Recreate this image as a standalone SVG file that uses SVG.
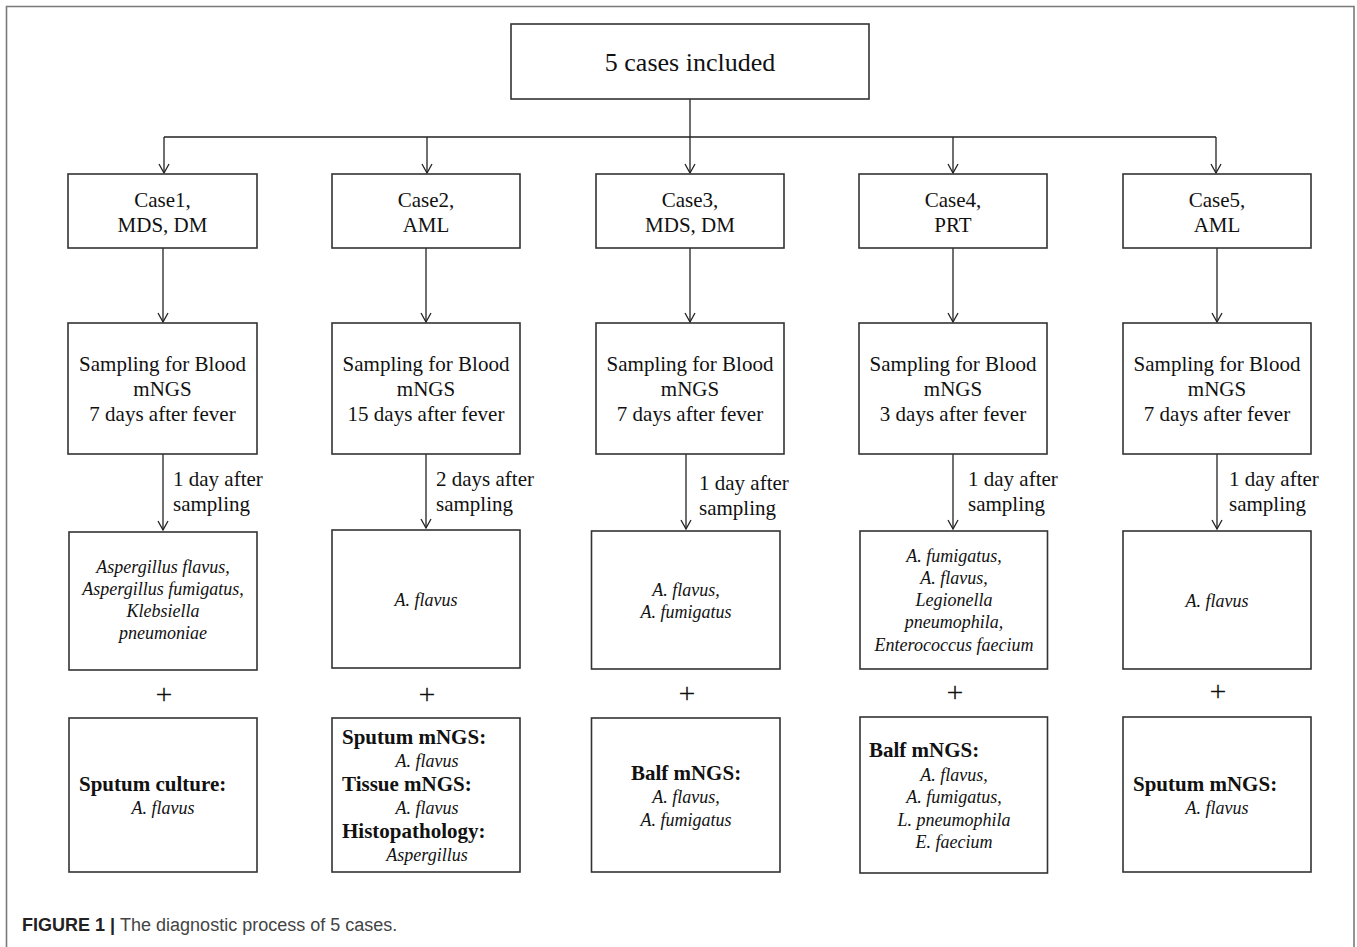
<svg xmlns="http://www.w3.org/2000/svg" width="1357" height="947" viewBox="0 0 1357 947">
<defs>
<marker id="arr" viewBox="0 0 12 12" refX="11" refY="6" markerWidth="12" markerHeight="12" markerUnits="userSpaceOnUse" orient="auto">
<path d="M2,1 L11,6 L2,11" fill="none" stroke="#222" stroke-width="1.3"/>
</marker>
<style>
.box{fill:#fff;stroke:#333;stroke-width:1.6}
.t{font-family:"Liberation Serif","Times New Roman",serif;font-size:21px;fill:#111;text-anchor:middle}
.big{font-family:"Liberation Serif","Times New Roman",serif;font-size:26px;fill:#111;text-anchor:middle}
.it{font-family:"Liberation Serif","Times New Roman",serif;font-size:18px;font-style:italic;fill:#111;text-anchor:middle}
.b{font-family:"Liberation Serif","Times New Roman",serif;font-size:21px;font-weight:bold;fill:#111}
.lbl{font-family:"Liberation Serif","Times New Roman",serif;font-size:21px;fill:#111}
.plus{font-family:"Liberation Serif","Times New Roman",serif;font-size:30px;fill:#111;text-anchor:middle}
.c{fill:none;stroke:#222;stroke-width:1.3}
.ca{fill:none;stroke:#222;stroke-width:1.3;marker-end:url(#arr)}
</style>
</defs>
<rect width="1357" height="947" fill="#fff"/>
<path d="M6.5,960 V6.5 H1354 V960" fill="none" stroke="#7a7a7a" stroke-width="1.6"/>

<g id="connectors">
<path class="c" d="M690,99 V137 M164,137 H1216"/>
<path class="ca" d="M164,137 V173"/>
<path class="ca" d="M427,137 V173"/>
<path class="ca" d="M690,137 V173"/>
<path class="ca" d="M953,137 V173"/>
<path class="ca" d="M1216,137 V173"/>
<path class="ca" d="M163,248 V322"/>
<path class="ca" d="M426,248 V322"/>
<path class="ca" d="M690,248 V322"/>
<path class="ca" d="M953,248 V322"/>
<path class="ca" d="M1217,248 V322"/>
<path class="ca" d="M163,454 V530"/>
<path class="ca" d="M426,454 V528"/>
<path class="ca" d="M686,454 V529"/>
<path class="ca" d="M953,454 V529"/>
<path class="ca" d="M1217,454 V529"/>
<text class="lbl" x="173" y="486">1 day after</text>
<text class="lbl" x="173" y="511">sampling</text>
<text class="lbl" x="436" y="486">2 days after</text>
<text class="lbl" x="436" y="511">sampling</text>
<text class="lbl" x="699" y="490">1 day after</text>
<text class="lbl" x="699" y="515">sampling</text>
<text class="lbl" x="968" y="486">1 day after</text>
<text class="lbl" x="968" y="511">sampling</text>
<text class="lbl" x="1229" y="486">1 day after</text>
<text class="lbl" x="1229" y="511">sampling</text>
<text class="plus" x="164" y="704">+</text>
<text class="plus" x="427" y="704">+</text>
<text class="plus" x="687" y="703">+</text>
<text class="plus" x="955" y="702">+</text>
<text class="plus" x="1218" y="701">+</text>
</g>

<g id="top">
<rect class="box" x="511" y="24" width="358" height="75"/>
<text class="big" x="690" y="71">5 cases included</text>
</g>

<g id="case1">
<rect class="box" x="68" y="174" width="189" height="74"/>
<text class="t" x="162.5" y="207">Case1,</text>
<text class="t" x="162.5" y="232">MDS, DM</text>
</g>
<g id="case2">
<rect class="box" x="332" y="174" width="188" height="74"/>
<text class="t" x="426" y="207">Case2,</text>
<text class="t" x="426" y="232">AML</text>
</g>
<g id="case3">
<rect class="box" x="596" y="174" width="188" height="74"/>
<text class="t" x="690" y="207">Case3,</text>
<text class="t" x="690" y="232">MDS, DM</text>
</g>
<g id="case4">
<rect class="box" x="859" y="174" width="188" height="74"/>
<text class="t" x="953" y="207">Case4,</text>
<text class="t" x="953" y="232">PRT</text>
</g>
<g id="case5">
<rect class="box" x="1123" y="174" width="188" height="74"/>
<text class="t" x="1217" y="207">Case5,</text>
<text class="t" x="1217" y="232">AML</text>
</g>

<g id="sampling1">
<rect class="box" x="68" y="323" width="189" height="131"/>
<text class="t" x="162.5" y="371">Sampling for Blood</text>
<text class="t" x="162.5" y="396">mNGS</text>
<text class="t" x="162.5" y="421">7 days after fever</text>
</g>
<g id="sampling2">
<rect class="box" x="332" y="323" width="188" height="131"/>
<text class="t" x="426" y="371">Sampling for Blood</text>
<text class="t" x="426" y="396">mNGS</text>
<text class="t" x="426" y="421">15 days after fever</text>
</g>
<g id="sampling3">
<rect class="box" x="596" y="323" width="188" height="131"/>
<text class="t" x="690" y="371">Sampling for Blood</text>
<text class="t" x="690" y="396">mNGS</text>
<text class="t" x="690" y="421">7 days after fever</text>
</g>
<g id="sampling4">
<rect class="box" x="859" y="323" width="188" height="131"/>
<text class="t" x="953" y="371">Sampling for Blood</text>
<text class="t" x="953" y="396">mNGS</text>
<text class="t" x="953" y="421">3 days after fever</text>
</g>
<g id="sampling5">
<rect class="box" x="1123" y="323" width="188" height="131"/>
<text class="t" x="1217" y="371">Sampling for Blood</text>
<text class="t" x="1217" y="396">mNGS</text>
<text class="t" x="1217" y="421">7 days after fever</text>
</g>

<g id="result1">
<rect class="box" x="69" y="532" width="188" height="138"/>
<text class="it" x="163" y="573">Aspergillus flavus,</text>
<text class="it" x="163" y="595">Aspergillus fumigatus,</text>
<text class="it" x="163" y="617">Klebsiella</text>
<text class="it" x="163" y="639">pneumoniae</text>
</g>
<g id="result2">
<rect class="box" x="332" y="530" width="188" height="138"/>
<text class="it" x="426" y="606">A. flavus</text>
</g>
<g id="result3">
<rect class="box" x="591.5" y="531" width="188.5" height="138"/>
<text class="it" x="686" y="596">A. flavus,</text>
<text class="it" x="686" y="618">A. fumigatus</text>
</g>
<g id="result4">
<rect class="box" x="860" y="531" width="187.5" height="138"/>
<text class="it" x="954" y="562">A. fumigatus,</text>
<text class="it" x="954" y="584">A. flavus,</text>
<text class="it" x="954" y="606">Legionella</text>
<text class="it" x="954" y="628">pneumophila,</text>
<text class="it" x="954" y="651">Enterococcus faecium</text>
</g>
<g id="result5">
<rect class="box" x="1123" y="531" width="188" height="138"/>
<text class="it" x="1217" y="607">A. flavus</text>
</g>

<g id="extra1">
<rect class="box" x="69" y="718" width="188" height="154"/>
<text class="b" x="79" y="791">Sputum culture:</text>
<text class="it" x="163" y="814">A. flavus</text>
</g>
<g id="extra2">
<rect class="box" x="332" y="718" width="188" height="154"/>
<text class="b" x="342" y="744">Sputum mNGS:</text>
<text class="it" x="427" y="767">A. flavus</text>
<text class="b" x="342" y="791">Tissue mNGS:</text>
<text class="it" x="427" y="814">A. flavus</text>
<text class="b" x="342" y="838">Histopathology:</text>
<text class="it" x="427" y="861">Aspergillus</text>
</g>
<g id="extra3">
<rect class="box" x="591.5" y="718" width="188.5" height="154"/>
<text class="b" x="686" y="780" text-anchor="middle">Balf mNGS:</text>
<text class="it" x="686" y="803">A. flavus,</text>
<text class="it" x="686" y="826">A. fumigatus</text>
</g>
<g id="extra4">
<rect class="box" x="860" y="717" width="187.5" height="156"/>
<text class="b" x="869" y="757">Balf mNGS:</text>
<text class="it" x="954" y="781">A. flavus,</text>
<text class="it" x="954" y="803">A. fumigatus,</text>
<text class="it" x="954" y="826">L. pneumophila</text>
<text class="it" x="954" y="848">E. faecium</text>
</g>
<g id="extra5">
<rect class="box" x="1123" y="717" width="188" height="155"/>
<text class="b" x="1133" y="791">Sputum mNGS:</text>
<text class="it" x="1217" y="814">A. flavus</text>
</g>

<text x="22" y="931" style="font-family:'Liberation Sans',Arial,sans-serif;font-size:18px;fill:#444"><tspan style="font-weight:bold;fill:#222">FIGURE 1 | </tspan>The diagnostic process of 5 cases.</text>
</svg>
